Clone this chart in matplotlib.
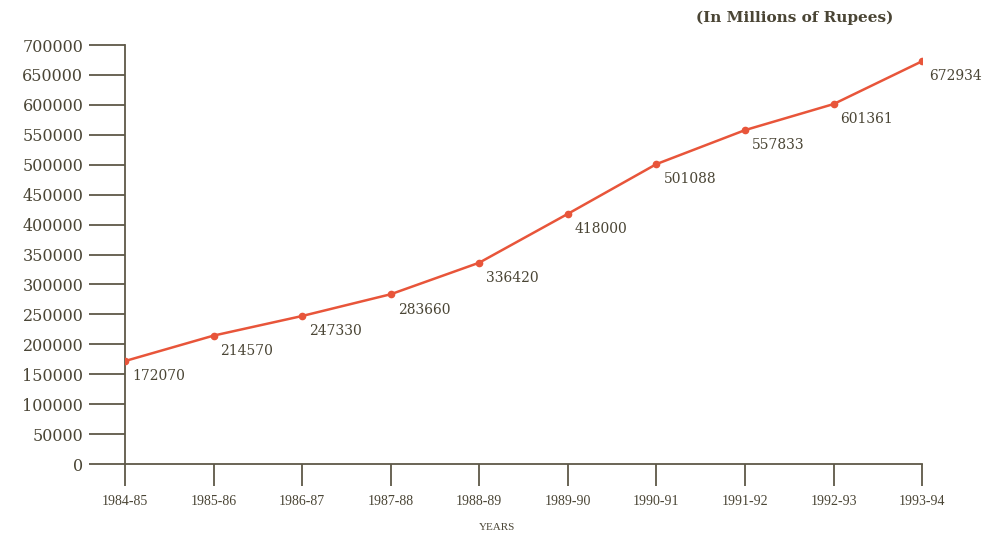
import matplotlib.pyplot as plt

# Gross domestic product by year, millions of rupees
years = ['1984-85', '1985-86', '1986-87', '1987-88', '1988-89',
         '1989-90', '1990-91', '1991-92', '1992-93', '1993-94']
valores = [172070, 214570, 247330, 283660, 336420,
           418000, 501088, 557833, 601361, 672934]
yticks = list(range(0, 700001, 50000))

cor_texto = '#4a4535'
cor_eixo = '#5e5848'
cor_linha = '#e8553a'

fig = plt.figure(figsize=(9.89, 5.34), dpi=100)
ax = fig.add_axes([0.1264, 0.131, 0.806, 0.7847])

x = range(len(years))
ax.plot(x, valores, color=cor_linha, lw=1.8, marker='o', ms=4.5, zorder=3)

for i, v in enumerate(valores):
    ax.annotate(str(v), (i, v), xytext=(5, -11), textcoords='offset points',
                ha='left', va='center', fontsize=10, family='DejaVu Serif',
                color=cor_texto)

ax.set_xlim(0, len(years) - 1)
ax.set_ylim(0, 700000)
ax.set_xticks(list(x))
ax.set_xticklabels(years, family='Liberation Serif', fontsize=10, color=cor_texto)
ax.set_yticks(yticks)
ax.set_yticklabels([str(t) for t in yticks], family='DejaVu Serif', fontsize=11.5,
                   color=cor_texto)

for s in ['top', 'right']:
    ax.spines[s].set_visible(False)
for s in ['left', 'bottom']:
    ax.spines[s].set_color(cor_eixo)
    ax.spines[s].set_linewidth(1.3)
ax.tick_params(axis='y', length=26, width=1.3, color=cor_eixo, pad=4)
ax.tick_params(axis='x', length=16, width=1.3, color=cor_eixo, pad=6)

fig.text(0.903, 0.966, '(In Millions of Rupees)', ha='right', va='center',
         fontsize=11, fontweight='bold', family='DejaVu Serif', color=cor_texto)
fig.text(0.503, 0.013, 'YEARS', ha='center', va='center', fontsize=8,
         family='Liberation Serif', color=cor_texto)

fig.savefig('out.png', dpi=100)
